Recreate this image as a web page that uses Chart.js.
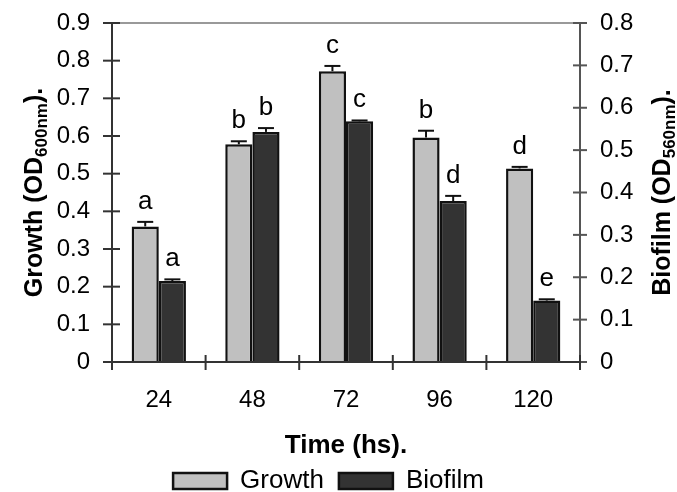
<!DOCTYPE html>
<html>
<head>
<meta charset="utf-8">
<script src="https://cdn.jsdelivr.net/npm/chart.js@4.4.1/dist/chart.umd.min.js"></script>
<style>
  body { margin: 0; background: #fff; }
  #chart { display: block; }
</style>
</head>
<body>
<canvas id="chart" width="677" height="492"></canvas>
<script>
const FONT = '"Liberation Sans", Arial, sans-serif';

// data
const categories = ['24', '48', '72', '96', '120'];
const growth = [0.360, 0.578, 0.772, 0.596, 0.514];
const growthErr = [0.012, 0.008, 0.014, 0.018, 0.004];
const biofilm = [0.191, 0.543, 0.568, 0.380, 0.145];
const biofilmErr = [0.004, 0.009, 0.002, 0.012, 0.003];
const growthLetters = ['a', 'b', 'c', 'b', 'd'];
const biofilmLetters = ['a', 'b', 'c', 'd', 'e'];

const errors = [growthErr, biofilmErr];
const letters = [growthLetters, biofilmLetters];

const tickLabel = (v) => (v === 0 ? '0' : v.toFixed(1));

const line = (ctx, x1, y1, x2, y2) => {
  ctx.beginPath();
  ctx.moveTo(x1, y1);
  ctx.lineTo(x2, y2);
  ctx.stroke();
};

// axis lines + crossing tick marks
const framePlugin = {
  id: 'frame',
  afterDatasetsDraw(chart) {
    const { ctx, chartArea: a, scales: { x, y, y1 } } = chart;
    ctx.save();
    ctx.lineWidth = 2;

    ctx.strokeStyle = '#999';
    line(ctx, a.left - 9, a.top, a.right + 7, a.top);

    ctx.strokeStyle = '#555';
    line(ctx, a.right, a.top, a.right, a.bottom + 8);
    y1.ticks.forEach((t) => {
      const py = y1.getPixelForValue(t.value);
      line(ctx, a.right - 7, py, a.right + 7, py);
    });

    ctx.strokeStyle = '#333';
    line(ctx, a.left, a.top, a.left, a.bottom + 8);
    y.ticks.forEach((t) => {
      const py = y.getPixelForValue(t.value);
      line(ctx, a.left - 9, py, a.left + 8, py);
    });
    line(ctx, a.left, a.bottom, a.right, a.bottom);

    const half = (x.getPixelForValue(1) - x.getPixelForValue(0)) / 2;
    for (let i = 0; i <= categories.length; i++) {
      const px = i < categories.length ? x.getPixelForValue(i) - half : x.getPixelForValue(i - 1) + half;
      line(ctx, px, a.bottom - 7, px, a.bottom + 8);
    }
    ctx.restore();
  }
};

// error bars (upper only) and significance letters
const errorPlugin = {
  id: 'errors',
  afterDatasetsDraw(chart) {
    const { ctx } = chart;
    ctx.save();
    ctx.strokeStyle = '#111';
    ctx.fillStyle = '#000';
    ctx.lineWidth = 2;
    ctx.font = '26px ' + FONT;
    ctx.textAlign = 'center';
    ctx.textBaseline = 'alphabetic';
    chart.data.datasets.forEach((ds, d) => {
      const meta = chart.getDatasetMeta(d);
      const scale = chart.scales[ds.yAxisID];
      meta.data.forEach((bar, i) => {
        const top = scale.getPixelForValue(ds.data[i] + errors[d][i]);
        line(ctx, bar.x, bar.y, bar.x, top);
        line(ctx, bar.x - 8, top, bar.x + 8, top);
        ctx.fillText(letters[d][i], bar.x, top - 13);
      });
    });
    ctx.restore();
  }
};

// rotated axis titles with subscripts
const drawRotTitle = (ctx, parts, cx, cy) => {
  ctx.save();
  ctx.translate(cx, cy);
  ctx.rotate(-Math.PI / 2);
  ctx.fillStyle = '#000';
  ctx.textBaseline = 'alphabetic';
  ctx.textAlign = 'left';
  let total = 0;
  parts.forEach((p) => {
    ctx.font = 'bold ' + p.size + 'px ' + FONT;
    p.w = ctx.measureText(p.text).width;
    total += p.w;
  });
  let px = -total / 2;
  parts.forEach((p) => {
    ctx.font = 'bold ' + p.size + 'px ' + FONT;
    ctx.fillText(p.text, px, 9 + (p.sub ? 5 : 0));
    px += p.w;
  });
  ctx.restore();
};

const titlePlugin = {
  id: 'yTitles',
  afterDraw(chart) {
    const { ctx, chartArea: a } = chart;
    const cy = (a.top + a.bottom) / 2;
    drawRotTitle(ctx, [
      { text: 'Growth (OD', size: 25 },
      { text: '600nm', size: 17, sub: true },
      { text: ').', size: 25 }
    ], 33, cy);
    drawRotTitle(ctx, [
      { text: 'Biofilm (OD', size: 25 },
      { text: '560nm', size: 17, sub: true },
      { text: ').', size: 25 }
    ], 661, cy);
  }
};

// nudge the legend a little to the left, as in the figure
const legendShift = {
  id: 'legendShift',
  afterLayout(chart) {
    chart.legend.left -= 10;
    chart.legend.right -= 10;
  }
};

// keep the y axes from pushing the plot area down
const noEdgePad = (s, w) => {
  s.width = w;
  s.paddingTop = 0;
  s.paddingBottom = 0;
};

const chart = new Chart(document.querySelector('#chart'), {
  type: 'bar',
  data: {
    labels: categories,
    datasets: [
      {
        label: 'Growth',
        data: growth,
        yAxisID: 'y',
        backgroundColor: '#c0c0c0',
        borderColor: '#111',
        borderWidth: 2.5,
        categoryPercentage: 0.58,
        barPercentage: 1
      },
      {
        label: 'Biofilm',
        data: biofilm,
        yAxisID: 'y1',
        backgroundColor: '#333333',
        borderColor: '#111',
        borderWidth: 2.5,
        categoryPercentage: 0.58,
        barPercentage: 1
      }
    ]
  },
  options: {
    responsive: false,
    animation: false,
    layout: { padding: { top: 23, left: 0, right: 0, bottom: 0 } },
    plugins: {
      legend: {
        position: 'bottom',
        maxHeight: 39,
        labels: {
          boxWidth: 54,
          boxHeight: 16,
          padding: 15,
          color: '#000',
          font: { family: FONT, size: 26 }
        }
      },
      tooltip: { enabled: false }
    },
    scales: {
      x: {
        grid: { display: false, drawTicks: false },
        border: { display: false },
        ticks: { color: '#000', font: { family: FONT, size: 24 }, padding: 24 },
        title: {
          display: true,
          text: 'Time (hs).',
          color: '#000',
          font: { family: FONT, size: 26, weight: 'bold' },
          padding: { top: 0, bottom: -8 }
        },
        afterFit: (s) => { s.height = 91; }
      },
      y: {
        position: 'left',
        min: 0,
        max: 0.9,
        grid: { display: false, drawTicks: false },
        border: { display: false },
        ticks: { stepSize: 0.1, color: '#000', font: { family: FONT, size: 24 }, padding: 22, callback: tickLabel },
        afterFit: (s) => noEdgePad(s, 112)
      },
      y1: {
        position: 'right',
        min: 0,
        max: 0.8,
        grid: { display: false, drawTicks: false },
        border: { display: false },
        ticks: { stepSize: 0.1, color: '#000', font: { family: FONT, size: 24 }, padding: 20, callback: tickLabel },
        afterFit: (s) => noEdgePad(s, 97)
      }
    }
  },
  plugins: [framePlugin, errorPlugin, titlePlugin, legendShift]
});
</script>
</body>
</html>
